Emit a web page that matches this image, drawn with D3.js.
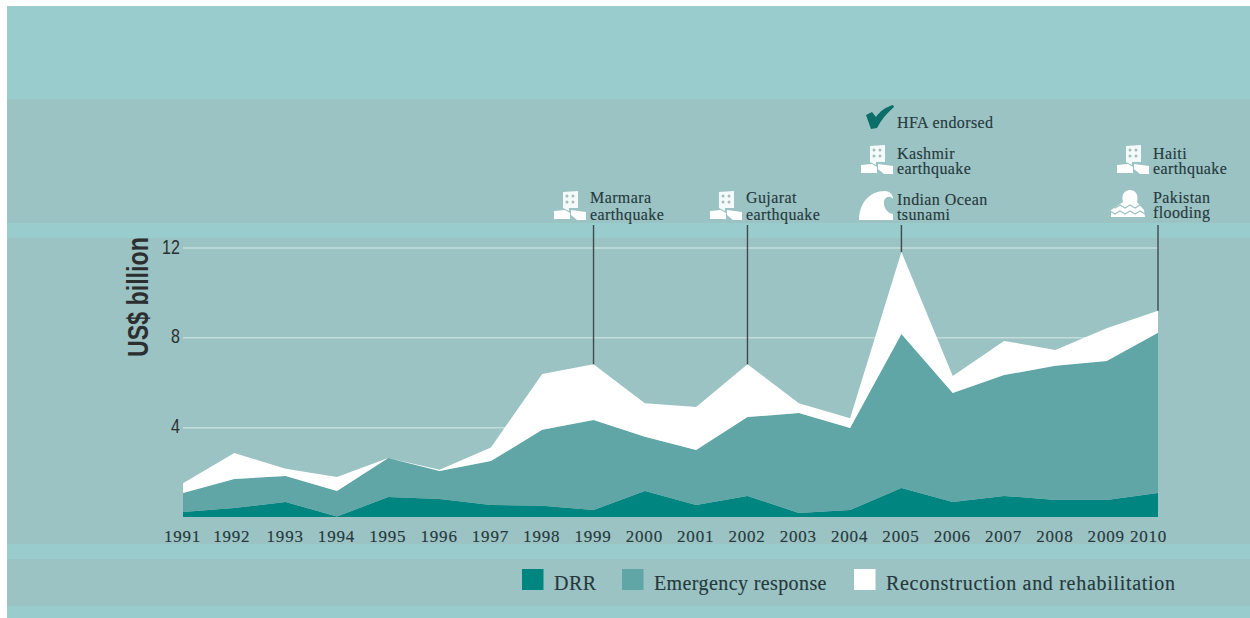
<!DOCTYPE html>
<html>
<head>
<meta charset="utf-8">
<script src="https://d3js.org/d3.v7.min.js"></script>
<style>
  html, body { margin: 0; padding: 0; background: #fff; }
  svg { display: block; }
  .serif { font-family: "Liberation Serif", serif; fill: #24393d; stroke: #24393d; stroke-width: 0.15; }
  .narrow { font-family: "Liberation Sans", sans-serif; fill: #2b2f30; }
</style>
</head>
<body>
<svg id="chart" width="1250" height="618"></svg>
<script>
const years = [1991, 1992, 1993, 1994, 1995, 1996, 1997, 1998, 1999, 2000,
               2001, 2002, 2003, 2004, 2005, 2006, 2007, 2008, 2009, 2010];

const drr = [0.22, 0.40, 0.67, 0.02, 0.89, 0.80, 0.53, 0.50, 0.31, 1.16,
             0.53, 0.94, 0.18, 0.31, 1.29, 0.67, 0.94, 0.76, 0.76, 1.07];
const emergency = [0.85, 1.29, 1.16, 1.14, 1.74, 1.25, 1.96, 3.38, 4.01, 2.41,
                   2.45, 3.51, 4.45, 3.65, 6.86, 4.85, 5.38, 5.97, 6.19, 7.13];
const reconstruction = [0.43, 1.16, 0.32, 0.62, 0, 0.05, 0.61, 2.49, 2.48, 1.50,
                        1.92, 2.35, 0.44, 0.44, 3.65, 0.76, 1.52, 0.71, 1.45, 0.98];

const seriesNames = ["DRR", "Emergency response", "Reconstruction and rehabilitation"];
const yTicks = [4, 8, 12];
const markerYears = [1999, 2002, 2005, 2010];

const light = "#99cccc", band = "#9cc3c3";
const colors = ["#008580", "#60a6a6", "#ffffff"];

const svg = d3.select("#chart");

// page background, alternating strips
svg.append("rect").attr("x", 7).attr("y", 6).attr("width", 1243).attr("height", 612).attr("fill", light);
[[99, 124], [238, 306], [559, 47]].forEach(b => {
  svg.append("rect").attr("x", 7).attr("y", b[0]).attr("width", 1243).attr("height", b[1]).attr("fill", band);
});

const x = d3.scaleLinear().domain([1991, 2010]).range([183, 1158]);
const y = d3.scaleLinear().domain([0, 12]).range([517, 247.5]);

const table = years.map((yr, i) => ({
  year: yr,
  [seriesNames[0]]: drr[i],
  [seriesNames[1]]: emergency[i],
  [seriesNames[2]]: reconstruction[i]
}));
const stacked = d3.stack().keys(seriesNames)(table);

const area = d3.area()
    .x(d => x(d.data.year))
    .y0(d => y(d[0]))
    .y1(d => y(d[1]));

// y axis + gridlines
const yAxis = svg.append("g")
    .attr("transform", `translate(${x(1991)},0)`)
    .call(d3.axisLeft(y).tickValues(yTicks).tickSize(0).tickPadding(4));
yAxis.select(".domain").remove();
// no narrow font installed, squeeze the sans instead
yAxis.selectAll("text")
    .attr("class", "narrow")
    .attr("font-size", 20)
    .attr("dy", "0.28em")
    .attr("transform", "scale(0.8,1)");
yAxis.selectAll(".tick").append("line")
    .attr("x2", x(2010) - x(1991))
    .attr("stroke", "#c4dddb")
    .attr("stroke-width", 1.5);

svg.append("g").selectAll("path")
  .data(stacked)
  .join("path")
    .attr("d", area)
    .attr("fill", (d, i) => colors[i]);

// x axis labels only
const xAxis = svg.append("g")
    .attr("transform", `translate(0,${y(0)})`)
    .call(d3.axisBottom(x).tickValues(years).tickFormat(d3.format("d")).tickSize(0).tickPadding(13));
xAxis.select(".domain").remove();
xAxis.selectAll("text")
    .attr("class", "serif")
    .attr("font-size", 17)
    .attr("letter-spacing", 0.8)
    .attr("dx", d => d === 2010 ? -10 : d === 1992 ? -3 : -1);

svg.append("text")
    .attr("class", "narrow")
    .attr("transform", "translate(148,357) rotate(-90) scale(0.8,1)")
    .attr("font-size", 29)
    .attr("font-weight", "bold")
    .attr("fill", "#1f2324")
    .text("US$ billion");

// leader lines from the total to the top strip
svg.append("g").selectAll("line")
  .data(markerYears)
  .join("line")
    .attr("x1", d => x(d))
    .attr("x2", d => x(d))
    .attr("y1", 225)
    .attr("y2", d => y(stacked[2][years.indexOf(d)][1]))
    .attr("stroke", "#3f4a4c")
    .attr("stroke-width", 1.4);

function building(g) {
  g.append("path").attr("fill", "#f4fafa").attr("d", "M-27,-28 L-12,-29 L-12,-12 L-21,-12 L-21,-9 L-27,-12 Z");
  g.append("path").attr("fill", "#fff").attr("d", "M-36,-9 L-25,-10 L-20,-7 L-20,-1 L-36,-1 Z");
  g.append("path").attr("fill", "#fff").attr("d", "M-19,-10 L-4,-8 L-4,0 L-13,0 L-19,-5 Z");
  [[-23, -24], [-17, -24], [-23, -18], [-17, -18]].forEach(p => {
    g.append("circle").attr("cx", p[0]).attr("cy", p[1]).attr("r", 1.5).attr("fill", "#a9bcbc");
  });
}

function wave(g) {
  g.append("path").attr("fill", "#fff")
    .attr("d", "M-38,0 C-38,-16 -28,-29 -12,-29 C-8,-29 -4,-26 -4,-21 C-7,-25 -12,-23 -13,-19 C-14,-13 -10,-7 -4,-6 L-4,0 Z");
}

function flood(g) {
  g.append("path").attr("fill", "#fff")
    .attr("d", "M-42,-1 L-42,-8 L-30,-16 C-32,-24 -28,-28 -23,-28 C-18,-28 -14,-24 -16,-16 L-9,-8 L-8,-1 Z");
  [-13, -7].forEach(dy => {
    g.append("path").attr("fill", "none").attr("stroke", band).attr("stroke-width", 1.3)
      .attr("d", d3.range(8).map(i => `${i ? "L" : "M"}${-43 + i * 5},${dy + (i % 2 ? 3 : 0)}`).join(" "));
  });
}

function check(g) {
  g.append("path").attr("fill", "#0b6e68")
    .attr("d", "M-31,-13 L-25,-16 L-21,-11 C-17,-17 -11,-21 -4,-23 L-3,-21 C-10,-15 -16,-8 -20,0 L-26,1 Z");
}

const notes = [
  { x: 590, base: 220, lines: ["Marmara", "earthquake"], gap: 17, icon: building },
  { x: 746, base: 220, lines: ["Gujarat", "earthquake"], gap: 17, icon: building },
  { x: 897, base: 174, lines: ["Kashmir", "earthquake"], gap: 15, icon: building },
  { x: 897, base: 220, lines: ["Indian Ocean", "tsunami"], gap: 15, icon: wave },
  { x: 897, base: 128, lines: ["HFA endorsed"], gap: 0, icon: check },
  { x: 1153, base: 174, lines: ["Haiti", "earthquake"], gap: 15, icon: building },
  { x: 1153, base: 218, lines: ["Pakistan", "flooding"], gap: 15, icon: flood }
];

notes.forEach(n => {
  const g = svg.append("g").attr("transform", `translate(${n.x},${n.base})`);
  n.icon(g);
  n.lines.forEach((t, i) => {
    g.append("text")
        .attr("class", "serif")
        .attr("font-size", 16)
        .attr("letter-spacing", 0.4)
        .attr("y", (i - n.lines.length + 1) * n.gap)
        .text(t);
  });
});

// legend
const legendX = [522, 622, 854];
const legendSpacing = [0.45, 0.4, 0.7];
seriesNames.forEach((name, i) => {
  svg.append("rect")
      .attr("x", legendX[i]).attr("y", 569)
      .attr("width", 21.5).attr("height", 21)
      .attr("fill", colors[i]);
  svg.append("text")
      .attr("class", "serif")
      .attr("x", legendX[i] + 32).attr("y", 590)
      .attr("font-size", 20)
      .attr("letter-spacing", legendSpacing[i])
      .text(name);
});
</script>
</body>
</html>
